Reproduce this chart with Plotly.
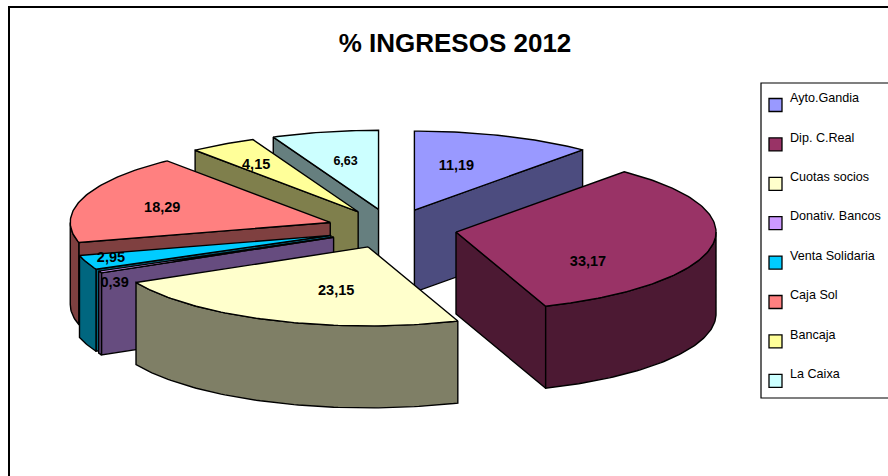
import math
import plotly.graph_objects as go

# ---- data ----
categories = ["Ayto.Gandia", "Dip. C.Real", "Cuotas socios", "Donativ. Bancos",
              "Venta Solidaria", "Caja Sol", "Bancaja", "La Caixa"]
values = [11.19, 33.17, 23.15, 0.39, 2.95, 18.29, 4.15, 6.63]
value_labels = ["11,19", "33,17", "23,15", "0,39", "2,95", "18,29", "4,15", "6,63"]
top_colors = ["#9999FF", "#993366", "#FFFFCC", "#CC99FF",
              "#00CCFF", "#FF8080", "#FFFF99", "#CCFFFF"]
title_text = "% INGRESOS 2012"

# ---- geometry / style of the 3D projection ----
W, H = 888, 476
CX, CY = 392, 228.6     # pie centre in the pixel-mapped axes
RX, RY = 260, 79        # ellipse radii of the tilted pie
EX, EY = 65, 19.7       # explosion distance
DEPTH = 82              # extruded thickness
LINE = 1.4
label_offsets = [(42, -44), (132, 30), (-32, 44), (-219, 46),
                 (-220, 23), (-168, -14), (-102, -46), (-33, -47)]
label_sizes = [14.5, 14.5, 14.5, 14.5, 14.5, 14.5, 14.5, 12.5]
LEG_X0, LEG_Y0, LEG_Y1 = 761, 83, 398
LEG_MARK_X, LEG_TEXT_X = 775.5, 790
LEG_FIRST_Y, LEG_STEP = 105, 39.4
LEG_TEXT_DY = -6


def darken(hex_color):
    r, g, b = (int(hex_color[i:i + 2], 16) for i in (1, 3, 5))
    return f"rgb({r // 2},{g // 2},{b // 2})"


def rim(ax, ay, deg):
    t = math.radians(deg)
    return ax + RX * math.sin(t), ay - RY * math.cos(t)


def arc(ax, ay, a, b):
    n = max(2, int(abs(b - a)) + 2)
    return [rim(ax, ay, a + (b - a) * i / (n - 1)) for i in range(n)]


def poly(pts, fill):
    xs = [p[0] for p in pts] + [pts[0][0]]
    ys = [p[1] for p in pts] + [pts[0][1]]
    return go.Scatter(x=xs, y=ys, mode="lines", fill="toself", fillcolor=fill,
                      line=dict(color="black", width=LINE), hoverinfo="skip",
                      showlegend=False)


total = sum(values)
slices = []
start = 0.0
for i, v in enumerate(values):
    end = start + 360 * v / total
    mid = math.radians((start + end) / 2)
    ax = CX + EX * math.sin(mid)
    ay = CY - EY * math.cos(mid)
    slices.append(dict(i=i, s=start, e=end, ax=ax, ay=ay))
    start = end

fig = go.Figure()

# back-to-front painting
for sl in sorted(slices, key=lambda d: d["ay"]):
    c = top_colors[sl["i"]]
    side = darken(c)
    ax, ay, s, e = sl["ax"], sl["ay"], sl["s"], sl["e"]
    if math.sin(math.radians(s)) < 0:
        p = rim(ax, ay, s)
        fig.add_trace(poly([(ax, ay), p, (p[0], p[1] + DEPTH), (ax, ay + DEPTH)], side))
    if math.sin(math.radians(e)) > 0:
        p = rim(ax, ay, e)
        fig.add_trace(poly([(ax, ay), p, (p[0], p[1] + DEPTH), (ax, ay + DEPTH)], side))
    a, b = max(s, 90), min(e, 270)
    if b > a:
        top = arc(ax, ay, a, b)
        fig.add_trace(poly(top + [(x, y + DEPTH) for x, y in reversed(top)], side))
    fig.add_trace(poly([(ax, ay)] + arc(ax, ay, s, e), c))

# value labels
for sl in slices:
    i = sl["i"]
    fig.add_trace(go.Scatter(
        x=[sl["ax"] + label_offsets[i][0]], y=[sl["ay"] + label_offsets[i][1]],
        mode="text", text=[value_labels[i]], textposition="middle center",
        textfont=dict(family="Liberation Sans", size=label_sizes[i], color="black",
                      weight="bold"),
        hoverinfo="skip", showlegend=False))

# legend drawn as its own marks
leg_y = [LEG_FIRST_Y + LEG_STEP * k for k in range(len(categories))]
fig.add_trace(go.Scatter(
    x=[LEG_MARK_X] * len(categories), y=leg_y, mode="markers",
    marker=dict(symbol="square", size=13, color=top_colors,
                line=dict(color="black", width=1.3)),
    hoverinfo="skip", showlegend=False))
fig.add_trace(go.Scatter(
    x=[LEG_TEXT_X] * len(categories), y=[y + LEG_TEXT_DY for y in leg_y],
    mode="text", text=categories, textposition="middle right",
    textfont=dict(family="Liberation Sans", size=12.6, color="black"),
    hoverinfo="skip", showlegend=False))

fig.update_layout(
    width=W, height=H, autosize=False, showlegend=False,
    margin=dict(l=0, r=0, t=0, b=0, autoexpand=False),
    paper_bgcolor="white", plot_bgcolor="white",
    xaxis=dict(range=[0, W], visible=False, fixedrange=True),
    yaxis=dict(range=[H, 0], visible=False, fixedrange=True),
    title=dict(text=f"<b>{title_text}</b>", x=455 / W, xanchor="center",
               y=1 - 43 / H, yanchor="middle",
               font=dict(family="Liberation Sans", size=26, color="black")),
    shapes=[
        dict(type="rect", xref="x", yref="y", x0=9, y0=7, x1=W + 20, y1=H + 20,
             line=dict(color="black", width=2), layer="below"),
        dict(type="rect", xref="x", yref="y", x0=LEG_X0, y0=LEG_Y0, x1=W + 20, y1=LEG_Y1,
             line=dict(color="black", width=1.2), fillcolor="white", layer="below"),
    ],
)

fig.write_html("out.html", config={"displayModeBar": False},
               post_script="document.body.style.margin='0';document.body.style.overflow='hidden';")
